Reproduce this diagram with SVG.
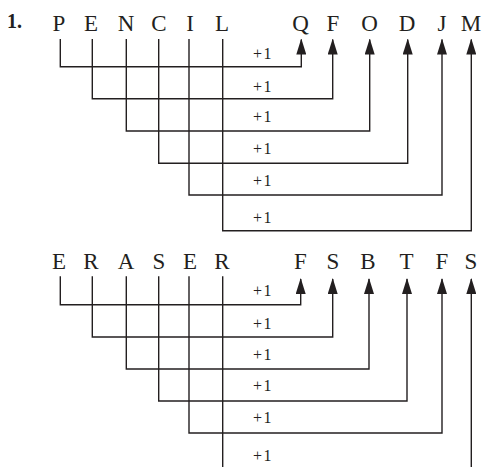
<svg xmlns="http://www.w3.org/2000/svg" width="483" height="468" viewBox="0 0 483 468">
<style>
.l{font-family:"Liberation Serif","Times New Roman",serif;font-size:23px;fill:#231f20;text-anchor:middle}
.p{font-family:"Liberation Serif","Times New Roman",serif;font-size:16px;letter-spacing:1.5px;fill:#231f20}
.n{font-family:"Liberation Serif","Times New Roman",serif;font-size:20px;font-weight:bold;fill:#231f20}
.c{fill:none;stroke:#231f20;stroke-width:1.4}
</style>
<defs>
<marker id="ah" viewBox="0 0 16 10" refX="15" refY="5" markerWidth="16" markerHeight="10" markerUnits="userSpaceOnUse" orient="auto">
<path d="M0,0 L16,5 L0,10 z" fill="#231f20"/>
</marker>
</defs>
<rect width="483" height="468" fill="#fff"/>
<text class="n" x="7" y="28">1.</text>
<g id="top-source">
<g id="t-P"><text class="l" x="59" y="31">P</text></g>
<g id="t-E"><text class="l" x="91" y="31">E</text></g>
<g id="t-N"><text class="l" x="126" y="31">N</text></g>
<g id="t-C"><text class="l" x="159" y="31">C</text></g>
<g id="t-I"><text class="l" x="190" y="31">I</text></g>
<g id="t-L"><text class="l" x="222" y="31">L</text></g>
</g>
<g id="top-target">
<g id="t-Q"><text class="l" x="300.5" y="31">Q</text></g>
<g id="t-F"><text class="l" x="333" y="31">F</text></g>
<g id="t-O"><text class="l" x="369.5" y="31">O</text></g>
<g id="t-D"><text class="l" x="407" y="31">D</text></g>
<g id="t-J"><text class="l" x="442" y="31">J</text></g>
<g id="t-M"><text class="l" x="471" y="31">M</text></g>
</g>
<g id="bot-source">
<g id="b-E1"><text class="l" x="59" y="269">E</text></g>
<g id="b-R1"><text class="l" x="91" y="269">R</text></g>
<g id="b-A"><text class="l" x="126" y="269">A</text></g>
<g id="b-S"><text class="l" x="159" y="269">S</text></g>
<g id="b-E2"><text class="l" x="190" y="269">E</text></g>
<g id="b-R2"><text class="l" x="222" y="269">R</text></g>
</g>
<g id="bot-target">
<g id="b-F1"><text class="l" x="300.5" y="269">F</text></g>
<g id="b-S1"><text class="l" x="333" y="269">S</text></g>
<g id="b-B"><text class="l" x="368" y="269">B</text></g>
<g id="b-T"><text class="l" x="406.5" y="269">T</text></g>
<g id="b-F2"><text class="l" x="442" y="269">F</text></g>
<g id="b-S2"><text class="l" x="471" y="269">S</text></g>
</g>
<g id="connectors">
<path class="c" marker-end="url(#ah)" d="M60.3,39 V66.7 H301.3 V39.5"/>
<path class="c" marker-end="url(#ah)" d="M92.3,39 V98.7 H332.7 V39.5"/>
<path class="c" marker-end="url(#ah)" d="M126.3,39 V131 H369.7 V39.5"/>
<path class="c" marker-end="url(#ah)" d="M158.7,39 V163.3 H407.7 V39.5"/>
<path class="c" marker-end="url(#ah)" d="M189,39 V195 H442 V39.5"/>
<path class="c" marker-end="url(#ah)" d="M222.7,39 V230.7 H471.3 V39.5"/>
<path class="c" marker-end="url(#ah)" d="M60.3,276.3 V304.7 H300.7 V279"/>
<path class="c" marker-end="url(#ah)" d="M92.3,276.3 V337 H332.7 V279"/>
<path class="c" marker-end="url(#ah)" d="M126.3,276.3 V369 H369 V279"/>
<path class="c" marker-end="url(#ah)" d="M158.7,276.3 V401 H407 V279"/>
<path class="c" marker-end="url(#ah)" d="M189,276.3 V433 H442 V279"/>
<path class="c" d="M222.7,276.3 V467"/>
<path class="c" marker-end="url(#ah)" d="M471.3,467 V279"/>
</g>
<g id="labels">
<text class="p" x="253" y="58.5">+1</text>
<text class="p" x="253" y="91.5">+1</text>
<text class="p" x="253" y="121.7">+1</text>
<text class="p" x="253" y="154">+1</text>
<text class="p" x="253" y="185.7">+1</text>
<text class="p" x="253" y="223.3">+1</text>
<text class="p" x="253" y="295.7">+1</text>
<text class="p" x="253" y="329">+1</text>
<text class="p" x="253" y="360">+1</text>
<text class="p" x="253" y="391.3">+1</text>
<text class="p" x="253" y="423.3">+1</text>
<text class="p" x="253" y="461.3">+1</text>
</g>
</svg>
